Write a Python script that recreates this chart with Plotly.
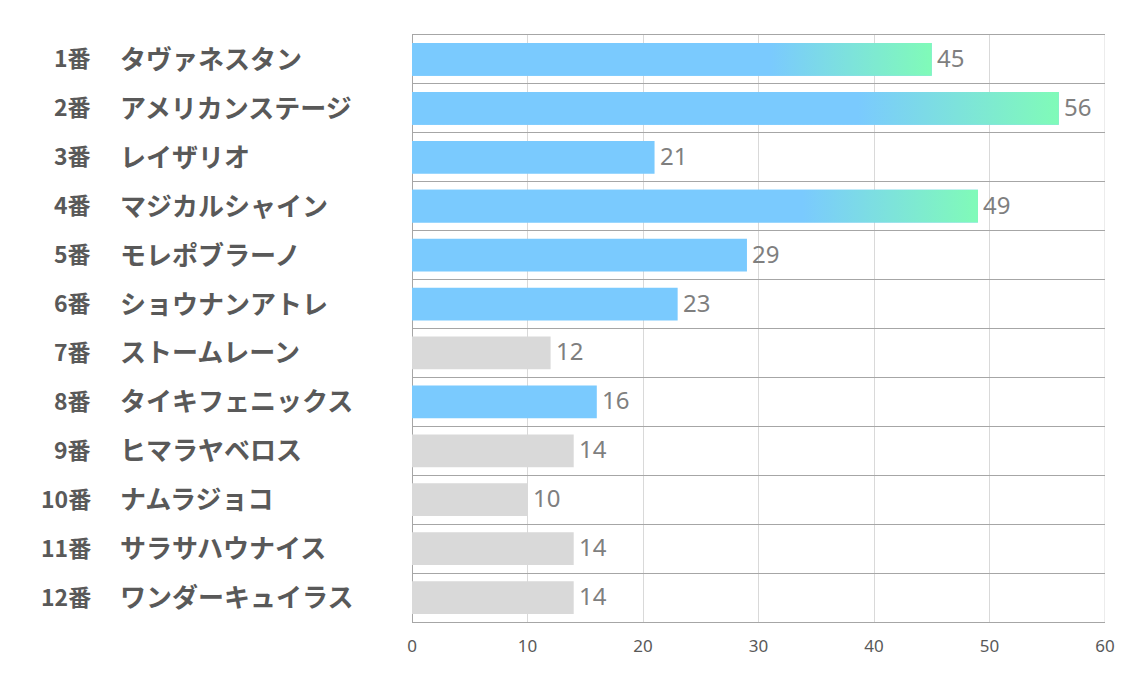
import plotly.graph_objects as go

numbers = ["1番", "2番", "3番", "4番", "5番", "6番", "7番", "8番", "9番", "10番", "11番", "12番"]
names = ["タヴァネスタン", "アメリカンステージ", "レイザリオ", "マジカルシャイン", "モレポブラーノ",
         "ショウナンアトレ", "ストームレーン", "タイキフェニックス", "ヒマラヤベロス", "ナムラジョコ",
         "サラサハウナイス", "ワンダーキュイラス"]
values = [45, 56, 21, 49, 29, 23, 12, 16, 14, 10, 14, 14]
highlight = [True, True, True, True, True, True, False, True, False, False, False, False]
gradient = [True, True, False, True, False, False, False, False, False, False, False, False]

BLUE = "#7ACAFE"
GREEN = "#80FBB8"
GRAY = "#D9D9D9"
BAR_W = 0.67

W, H = 1134, 680
ML, MR, MT, MB = 412, 29, 35, 58

idx = list(range(len(values)))
fig = go.Figure()
fig.add_trace(go.Bar(
    x=values, y=idx, orientation="h", width=BAR_W,
    marker=dict(color=[BLUE if h else GRAY for h in highlight], line=dict(width=0)),
    hoverinfo="skip",
))
for i, v in enumerate(values):
    if gradient[i]:
        fig.add_trace(go.Scatter(
            x=[0, v, v, 0, 0],
            y=[i - BAR_W / 2, i - BAR_W / 2, i + BAR_W / 2, i + BAR_W / 2, i - BAR_W / 2],
            mode="lines", line=dict(width=0), fill="toself",
            fillgradient=dict(type="horizontal",
                              colorscale=[[0, BLUE], [0.69, BLUE], [1, GREEN]]),
            hoverinfo="skip", showlegend=False,
        ))

# value labels
for i, v in enumerate(values):
    fig.add_annotation(x=v, y=i, xref="x", yref="y", text=str(v), showarrow=False,
                       xanchor="left", xshift=3, yshift=2,
                       font=dict(size=24, color="#7F7F7F", family="Noto Sans"))

pw = W - ML - MR
for i in idx:
    fig.add_annotation(x=(93 - ML) / pw, xref="paper", y=i, yref="y", yshift=2,
                       text=numbers[i], showarrow=False, xanchor="right",
                       font=dict(size=23, color="#595959", family="Noto Sans CJK JP", weight="bold"))
    fig.add_annotation(x=(118 - ML) / pw, xref="paper", y=i, yref="y", yshift=2,
                       text=names[i], showarrow=False, xanchor="left",
                       font=dict(size=26, color="#595959", family="Noto Sans CJK JP", weight="bold"))

# right border at the axis maximum
fig.add_shape(type="line", xref="x", yref="paper", x0=60, x1=60, y0=0, y1=1,
              line=dict(color="#D9D9D9", width=1), layer="below")

fig.update_layout(
    width=W, height=H, margin=dict(l=ML, r=MR, t=MT, b=MB),
    plot_bgcolor="white", paper_bgcolor="white", showlegend=False,
    font=dict(family="Noto Sans CJK JP", color="#595959"),
    xaxis=dict(range=[0, 60], dtick=10, tick0=0, showgrid=True, gridcolor="#D9D9D9", gridwidth=1,
               zeroline=True, zerolinecolor="#A6A6A6", zerolinewidth=1,
               tickfont=dict(size=17, color="#595959", family="Noto Sans"), ticks="",
               ticklabelstandoff=9, showline=True, mirror=True, linecolor="#A6A6A6",
               linewidth=1, fixedrange=True),
    yaxis=dict(range=[11.5, -0.5], tickmode="array", tickvals=[k - 0.5 for k in range(13)],
               showticklabels=False, showgrid=True, gridcolor="#A6A6A6", gridwidth=1,
               zeroline=False, ticks="", showline=False, fixedrange=True),
)
fig.write_html("out.html")
